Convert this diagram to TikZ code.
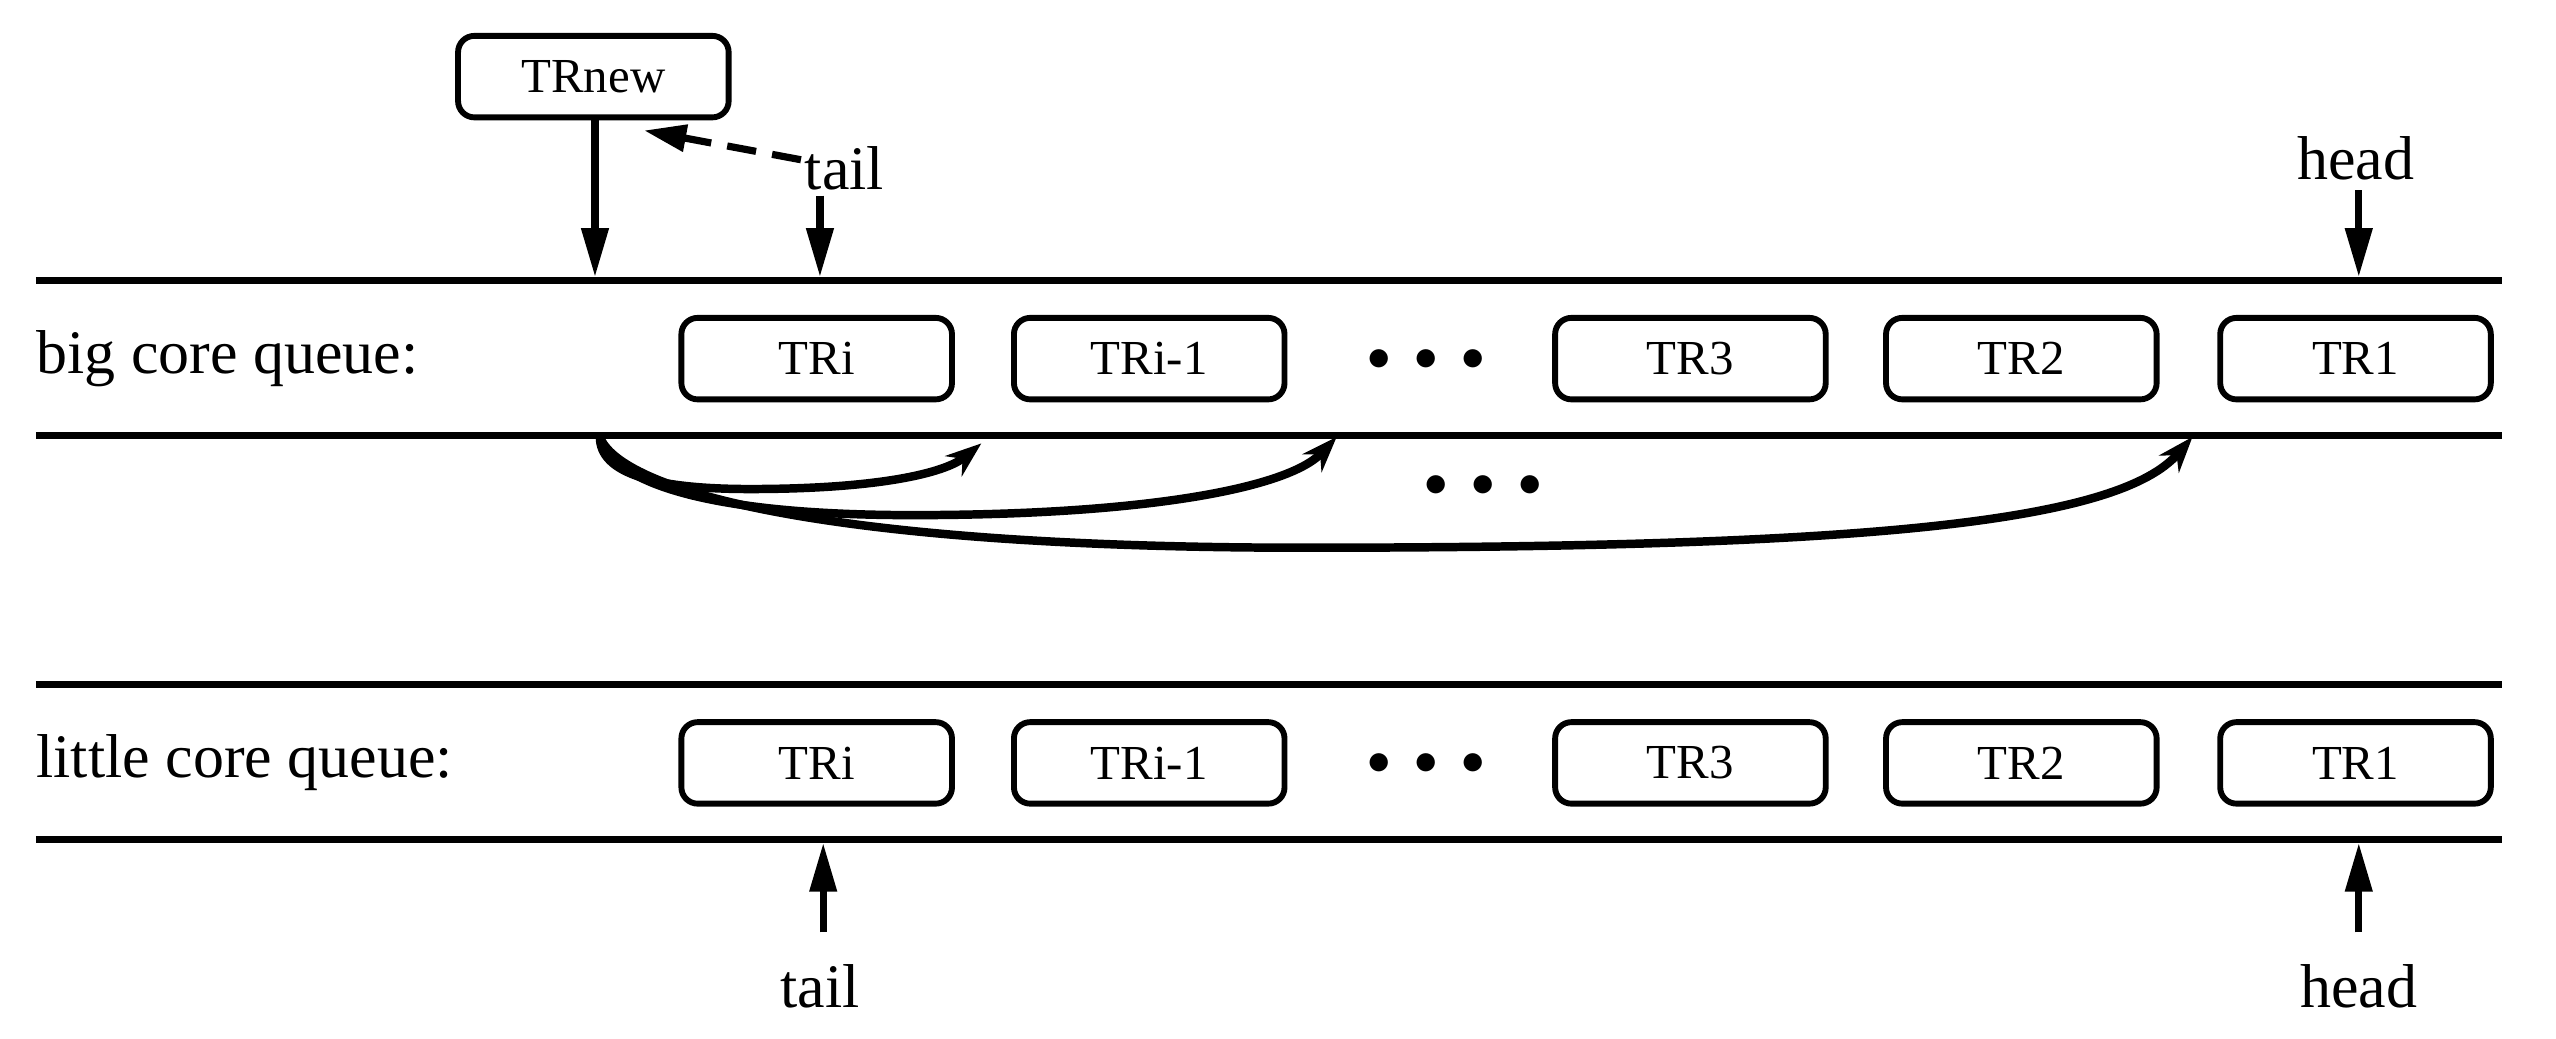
\documentclass[tikz,border=0pt]{standalone}
\usepackage{fontspec}
\setmainfont{Liberation Serif}
\usetikzlibrary{arrows.meta}
\begin{document}
\begin{tikzpicture}[x=0.5pt,y=-0.5pt,
  tr/.style={draw,line width=1.8pt,rounded corners=5pt,minimum width=83pt,minimum height=25pt,font=\fontsize{15}{15}\selectfont,inner sep=0pt},
  lbl/.style={font=\fontsize{19}{19}\selectfont,inner sep=1pt},
  dots/.style={font=\fontsize{14}{14}\selectfont,inner sep=1pt},
  rail/.style={line width=2.2pt},
  arr/.style={line width=2.2pt,-{Triangle[length=15pt,width=8pt]}},
  carr/.style={line width=2.6pt,-{Stealth[length=11pt,width=8pt]}}]
\useasboundingbox (0,0) rectangle (1568,637);
% rails
\draw[rail] (22,172) -- (1535,172); \draw[rail] (22,267) -- (1535,267);
\draw[rail] (22,420) -- (1535,420); \draw[rail] (22,515) -- (1535,515);
\node[lbl,anchor=west] (bl) at (20,220) {big core queue:};
\node[lbl,anchor=west] (ll) at (20,468) {little core queue:};
% big row
\node[tr] (b1) at (501,220) {TRi};
\node[tr] (b2) at (705,220) {TRi-1};
\node[dots] (bd) at (875,221) {$\bullet\;\bullet\;\bullet$};
\node[tr] (b3) at (1037,220) {TR3};
\node[tr] (b4) at (1240,220) {TR2};
\node[tr] (b5) at (1445,220) {TR1};
% little row
\node[tr] (l1) at (501,468) {TRi};
\node[tr] (l2) at (705,468) {TRi-1};
\node[dots] (ld) at (875,469) {$\bullet\;\bullet\;\bullet$};
\node[tr] (l3) at (1037,468) {TR3};
\node[tr] (l4) at (1240,468) {TR2};
\node[tr] (l5) at (1445,468) {TR1};
% TRnew
\node[tr] (new) at (364,47) {TRnew};
\coordinate (n1) at (365,170);
\draw[arr] (new.south -| n1) -- (n1);
\node[lbl] (tail) at (518,103) {tail};
\coordinate (t1) at (503,170);
\draw[arr] (503,120) -- (t1);
\draw[line width=2.2pt,dash pattern=on 9pt off 5pt,-{Triangle[length=13pt,width=8pt]}] (tail.west) ++(0,-5) -- (395,80);
\node[lbl] (head) at (1445,97) {head};
\coordinate (h1) at (1447,170);
\draw[arr] (head.south) ++(2,4) -- (h1);
% little pointers
\node[lbl] (tail2) at (503,605) {tail};
\coordinate (t2) at (505,517);
\draw[arr] (505,572) -- (t2);
\node[lbl] (head2) at (1447,605) {head};
\coordinate (h2) at (1447,517);
\draw[arr] (1447,572) -- (h2);
% curved arrows
\coordinate (s) at (368,268);
\coordinate (e1) at (602,272);
\coordinate (e2) at (820,268);
\coordinate (e3) at (1345,268);
\draw[carr] (s) .. controls (368,290) and (400,300) .. (460,300) .. controls (540,300) and (580,290) .. (e1);
\draw[carr] (s) .. controls (375,295) and (430,316) .. (560,316) .. controls (700,316) and (790,300) .. (e2);
\draw[carr] (s) .. controls (380,300) and (500,336) .. (800,336) .. controls (1150,336) and (1300,320) .. (e3);
\node[dots] (cd) at (910,298) {$\bullet\;\bullet\;\bullet$};
\end{tikzpicture}
\end{document}
